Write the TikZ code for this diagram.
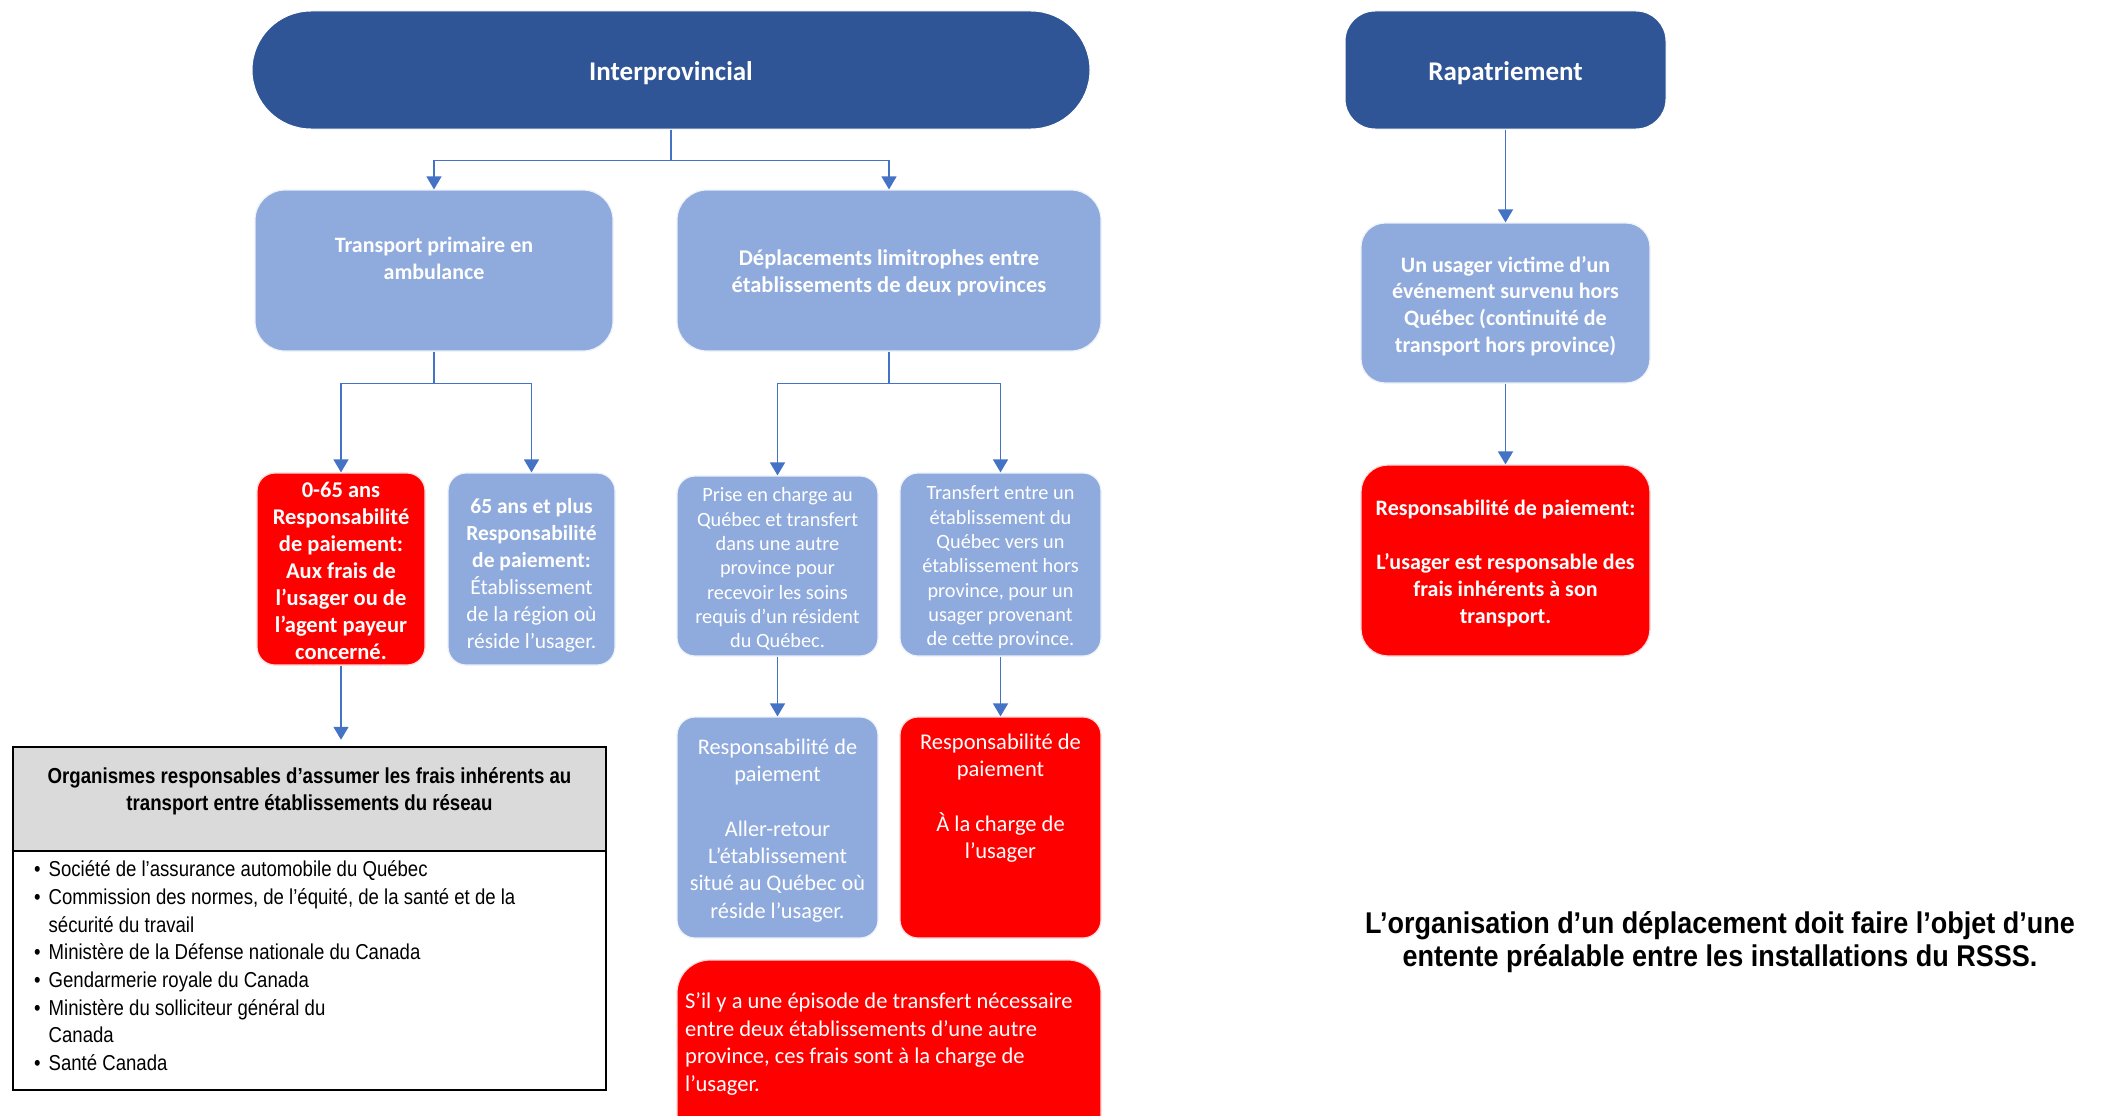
\documentclass[tikz,border=0pt]{standalone}
\usepackage{fontspec}
\setmainfont{Carlito}
\newfontfamily\arialn[FakeStretch=0.86]{Liberation Sans}
\newfontfamily\arialnote[FakeStretch=0.9]{Liberation Sans}
\usetikzlibrary{arrows.meta}
\definecolor{dkblue}{HTML}{2F5597}
\definecolor{ltblue}{HTML}{8FAADC}
\definecolor{arrblue}{HTML}{4472C4}
\definecolor{redbox}{HTML}{FF0000}
\definecolor{hdrgrey}{HTML}{DADADA}
\begin{document}
\begin{tikzpicture}[x=1pt,y=-1pt,
  dkbox/.style={rectangle, fill=dkblue, draw=white, line width=1pt, inner sep=0pt},
  ltbox/.style={rectangle, fill=ltblue, draw=white!85!ltblue, line width=1.2pt, inner sep=0pt},
  rdbox/.style={rectangle, fill=redbox, draw=white!85!redbox, line width=1.2pt, inner sep=0pt},
  txt/.style={text=white, align=center, inner sep=0pt, yshift=-3pt},
  conn/.style={draw=arrblue, line width=1.5pt, -{Triangle[width=15pt,length=13pt]}},
  orgbox/.style={rectangle, draw=black, line width=2.5pt, inner sep=0pt}
]
\useasboundingbox (0,0) rectangle (2102,1116);
\clip (0,0) rectangle (2102,1116);
\fill[white] (0,0) rectangle (2102,1116);

% top level
\node[dkbox, rounded corners=59pt, minimum width=838pt, minimum height=118pt] (ip) at (671,70) {};
\node[txt, font=\bfseries\fontsize{27}{32}\selectfont] (ipt) at (ip.center) {Interprovincial};
\node[dkbox, rounded corners=30pt, minimum width=321pt, minimum height=118pt] (rp) at (1505.5,70) {};
\node[txt, font=\bfseries\fontsize{27}{32}\selectfont] (rpt) at (rp.center) {Rapatriement};

% second level
\node[ltbox, rounded corners=30pt, minimum width=358pt, minimum height=161pt] (tp) at (434,270.5) {};
\node[txt, font=\bfseries\fontsize{22}{27}\selectfont] (tpt) at (434,255.5) {Transport primaire en\\ambulance};
\node[ltbox, rounded corners=30pt, minimum width=424pt, minimum height=161pt] (dl) at (889,270.5) {};
\node[txt, font=\bfseries\fontsize{22.5}{27}\selectfont] (dlt) at (889,270) {Déplacements limitrophes entre\\établissements de deux provinces};
\node[ltbox, rounded corners=24pt, minimum width=289pt, minimum height=160pt] (uu) at (1505.5,303) {};
\node[txt, font=\bfseries\fontsize{22}{26.8}\selectfont] (uut) at (uu.center) {Un usager victime d’un\\événement survenu hors\\Québec (continuité de\\transport hors province)};

% third level
\node[rdbox, rounded corners=18pt, minimum width=168pt, minimum height=192pt] (z) at (341,569) {};
\node[txt, font=\bfseries\fontsize{22.5}{27}\selectfont] (zt) at (341,567.5) {0-65 ans\\Responsabilité\\de paiement:\\Aux frais de\\l'usager ou de\\l'agent payeur\\concerné.};
\node[ltbox, rounded corners=18pt, minimum width=167pt, minimum height=192pt] (s) at (531.5,569) {};
\node[txt, font=\fontsize{21.5}{27}\selectfont] (st) at (531.5,572) {\textbf{65 ans et plus}\\\textbf{Responsabilité}\\\textbf{de paiement:}\\Établissement\\de la région où\\réside l'usager.};
\node[ltbox, rounded corners=18pt, minimum width=201pt, minimum height=180pt] (pc) at (777.5,566) {};
\node[txt, font=\fontsize{20.3}{24.3}\selectfont] (pct) at (pc.center) {Prise en charge au\\Québec et transfert\\dans une autre\\province pour\\recevoir les soins\\requis d’un résident\\du Québec.};
\node[ltbox, rounded corners=18pt, minimum width=201pt, minimum height=183pt] (tr) at (1000.5,564.5) {};
\node[txt, font=\fontsize{20.3}{24.3}\selectfont] (trt) at (tr.center) {Transfert entre un\\établissement du\\Québec vers un\\établissement hors\\province, pour un\\usager provenant\\de cette province.};
\node[rdbox, rounded corners=27pt, minimum width=289pt, minimum height=191pt] (rx) at (1505.5,560.5) {};
\node[txt, font=\bfseries\fontsize{22}{26.8}\selectfont] (rxt) at (rx.center) {Responsabilité de paiement:\\[26.8pt]L’usager est responsable des\\frais inhérents à son\\transport.};

% fourth level
\node[ltbox, rounded corners=18pt, minimum width=201pt, minimum height=221pt] (rb) at (777.5,827.5) {};
\node[txt, font=\fontsize{22.3}{27.3}\selectfont] (rbt) at (rb.center) {Responsabilité de\\paiement\\[27.3pt]Aller-retour\\L’établissement\\situé au Québec où\\réside l’usager.};
\node[rdbox, rounded corners=18pt, minimum width=201pt, minimum height=221pt] (rr) at (1000.5,827.5) {};
\node[txt, font=\fontsize{22.5}{27.3}\selectfont] (rrt) at (1000.5,795) {Responsabilité de\\paiement\\[27.3pt]À la charge de\\l’usager};
\node[rdbox, rounded corners=33pt, minimum width=424pt, minimum height=200pt] (bt) at (889,1060) {};
\node[txt, align=left, anchor=west, font=\fontsize{22.5}{27.5}\selectfont] (btt) at (685,1041) {S’il y a une épisode de transfert nécessaire\\entre deux établissements d’une autre\\province, ces frais sont à la charge de\\l’usager.};

% Organismes box
\node[orgbox, fill=hdrgrey, minimum width=593pt, minimum height=104pt] (hdr) at (309.5,799) {};
\node[align=center, inner sep=0pt, font=\arialn\bfseries\fontsize{21.7}{27}\selectfont] (hdrt) at (309.5,791.5) {Organismes responsables d’assumer les frais inhérents au\\transport entre établissements du réseau};
\node[orgbox, fill=white, minimum width=593pt, minimum height=239pt] (lst) at (309.5,970.5) {};
\node[anchor=north west, inner sep=0pt, font=\arialn\fontsize{21.6}{27.7}\selectfont] (lstt) at (34,857) {%
\begin{tabular}{@{}l@{\hspace{8pt}}l@{}}
• & Société de l’assurance automobile du Québec\\
• & Commission des normes, de l’équité, de la santé et de la\\
  & sécurité du travail\\
• & Ministère de la Défense nationale du Canada\\
• & Gendarmerie royale du Canada\\
• & Ministère du solliciteur général du\\
  & Canada\\
• & Santé Canada
\end{tabular}};

% note
\node[align=center, inner sep=0pt, font=\arialnote\bfseries\fontsize{30}{33.5}\selectfont] (note) at (1720,942) {L’organisation d’un déplacement doit faire l’objet d’une\\entente préalable entre les installations du RSSS.};

% connectors
\draw[conn] (ip.south) -- ++(0,31) -| (tp.north);
\draw[conn] (ip.south) -- ++(0,31) -| (dl.north);
\draw[conn] (tp.south) -- ++(0,32) -| (z.north);
\draw[conn] (tp.south) -- ++(0,32) -| (s.north);
\draw[conn] (dl.south) -- ++(0,32) -| (pc.north);
\draw[conn] (dl.south) -- ++(0,32) -| (tr.north);
\draw[conn] (pc.south) -- (rb.north);
\draw[conn] (tr.south) -- (rr.north);
\draw[conn, shorten >=6pt] (z.south) -- (z.south |- hdr.north);
\draw[conn] (rp.south) -- (uu.north);
\draw[conn] (uu.south) -- (rx.north);
\end{tikzpicture}
\end{document}
